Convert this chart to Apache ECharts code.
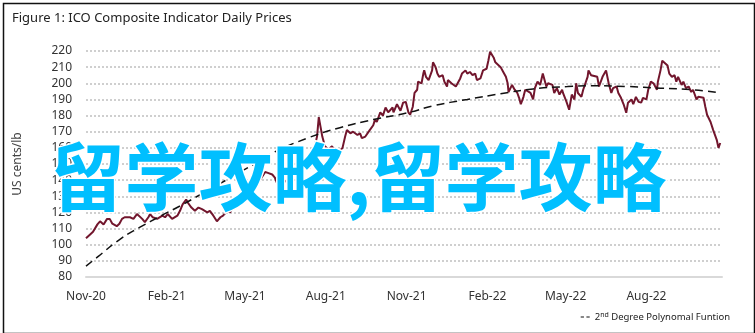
<!DOCTYPE html>
<html>
<head>
<meta charset="utf-8">
<script src="https://cdn.jsdelivr.net/npm/echarts@6/dist/echarts.min.js"></script>
<style>
  html, body { margin: 0; padding: 0; background: #fff; }
  #main { width: 755px; height: 333px; }
</style>
</head>
<body>
<div id="main"></div>
<script>
// days counted from 1 Nov 2020
const days = [0, 5, 8, 13, 16, 18, 20, 24, 27, 30, 31, 35, 38, 41, 44, 50, 54, 58, 60, 64,
  67, 71, 73, 76, 81, 87, 90, 93, 98, 104, 107, 110, 114, 116, 120, 124, 128, 132, 134, 138,
  141, 145, 149, 150, 153, 156, 161, 164, 167, 172, 175, 179, 182, 185, 189, 192, 198, 204, 207, 212,
  215, 219, 223, 229, 232, 238, 246, 251, 255, 257, 263, 265, 267, 269, 272, 276, 280, 284, 287, 292,
  295, 297, 301, 304, 309, 312, 314, 318, 320, 323, 327, 329, 331, 335, 338, 341, 344, 349, 350, 354,
  358, 361, 364, 367, 369, 372, 374, 377, 378, 382, 384, 385, 387, 390, 394, 395, 398, 400, 402, 406,
  408, 411, 412, 416, 418, 421, 424, 426, 428, 432, 434, 437, 440, 443, 445, 449, 452, 456, 458, 460,
  464, 466, 468, 472, 475, 478, 480, 481, 485, 488, 491, 493, 495, 498, 500, 502, 506, 509, 511, 514,
  517, 520, 524, 526, 531, 533, 536, 539, 542, 543, 547, 550, 553, 556, 558, 560, 564, 566, 571, 572,
  575, 577, 582, 584, 588, 590, 592, 595, 598, 600, 604, 606, 609, 612, 615, 617, 621, 623, 626, 629,
  632, 634, 638, 640, 643, 646, 650, 651, 654, 656, 658, 662, 664, 667, 670, 672, 674, 678, 680, 683,
  686, 689, 691, 695, 697, 699, 703, 705, 707, 711, 714, 716, 718, 720, 722];
const prices = [104, 106.5, 108, 112.6, 114.5, 115.6, 112.5, 116, 116, 113, 114, 111.5, 113, 116, 117, 117, 116, 119, 118, 116,
  114, 117, 119, 117, 116, 118, 117, 119, 116, 118, 121, 125, 128, 126, 123, 121, 123, 122, 123, 120,
  121, 118, 114.5, 114, 117, 118, 121, 120, 123, 126, 129, 127, 132, 130, 133, 135.6, 140, 145, 144.5, 143.5,
  141.6, 136, 138, 140, 148, 146, 149.6, 147, 148, 153, 167, 179, 173, 167, 161, 159, 161, 158, 157, 160,
  167, 171, 169, 170, 168, 169, 166, 167, 166, 171, 174, 177.5, 176, 182, 180, 185, 182, 185, 182, 187,
  183, 188, 188.5, 182, 180.5, 185.5, 194, 196, 201, 200, 206, 208, 204, 202, 208, 213, 210, 206, 204, 205,
  201, 198, 202, 200, 201, 198, 201, 203, 206, 208, 206, 207, 205, 206, 202, 203, 208, 209, 214, 219.5,
  216, 213, 214, 210, 207, 204, 200, 194.6, 199, 196, 194, 191, 187, 191.6, 196, 197, 194, 190, 197, 201,
  199, 206, 198, 200, 199, 194, 197, 193, 196, 194, 188.5, 183.6, 193, 190, 200, 194, 191.6, 196, 204, 208,
  205, 206, 204, 198, 204, 205, 208, 200, 194, 197, 198, 194, 191, 187, 181.7, 188, 190, 187, 191.6, 188.5,
  188, 191, 190, 196, 201, 200, 196, 201, 208, 214, 213, 211, 206, 204, 205, 201, 204, 199, 201, 197,
  198, 194.6, 196, 190, 191.6, 191, 191, 185.5, 180.5, 176, 171, 170, 165, 160, 163];

const trendDays = [0, 14, 39, 62, 84, 107, 130, 153, 175, 195, 213, 252, 289, 327, 366, 395, 434, 472, 509, 548, 577, 616, 654, 691, 722];
const trendValues = [86.7, 92.8, 103.5, 111, 117.5, 124, 131, 138, 145, 151, 157, 166, 172.5, 177.5, 181.7, 186, 190, 193.5, 196.5, 198, 198.5, 198, 197, 196, 194];

const tickDays = [0, 92, 181, 273, 365, 457, 546, 638];
const tickLabels = ["Nov-20", "Feb-21", "May-21", "Aug-21", "Nov-21", "Feb-22", "May-22", "Aug-22"];

let mycharts = echarts.init(document.getElementById("main"));

let option = {
  animation: false,
  textStyle: { fontFamily: "Noto Sans" },
  title: {
    text: "Figure 1: ICO Composite Indicator Daily Prices",
    left: 7,
    top: 7,
    textStyle: { color: "#222", fontWeight: "normal", fontSize: 13, fontFamily: "Noto Sans" }
  },
  grid: { left: 86, right: 33, top: 51, bottom: 56 },
  legend: {
    right: 20,
    bottom: 6,
    data: ["trend"],
    icon: "path://M0,0h4v1h-4z M7,0h4v1h-4z",
    itemWidth: 9,
    itemHeight: 2,
    itemGap: 4,
    formatter: function() {
      return "{t|2}{s|nd}{t| Degree Polynomal Funtion}";
    },
    textStyle: {
      rich: {
        t: { fontSize: 9.5, color: "#222", fontFamily: "Noto Sans" },
        s: { fontSize: 7, color: "#222", verticalAlign: "top", padding: [0, 0, 4, 0] }
      }
    }
  },
  xAxis: {
    type: "value",
    min: 0,
    max: 724,
    splitLine: { show: false },
    axisTick: { show: false },
    axisLine: { show: true, lineStyle: { color: "#d9d9d9", width: 2 } },
    axisLabel: {
      customValues: tickDays,
      margin: 14,
      fontSize: 12,
      color: "#333",
      formatter: function(v) {
        let i = tickDays.indexOf(v);
        return i >= 0 ? tickLabels[i] : "";
      }
    }
  },
  yAxis: {
    type: "value",
    min: 80,
    max: 220,
    interval: 10,
    name: "US cents/lb",
    nameLocation: "middle",
    nameGap: 62,
    nameRotate: 90,
    nameTextStyle: { color: "#444", fontSize: 12 },
    axisLine: { show: false },
    axisTick: { show: false },
    axisLabel: { margin: 14, fontSize: 12, color: "#333" },
    splitLine: {
      show: true,
      lineStyle: { color: "#cfcfcf", width: 2, type: [2, 2] }
    }
  },
  series: [
    {
      name: "price",
      type: "line",
      showSymbol: false,
      data: days.map(function(d, i) { return [d, prices[i]]; }),
      lineStyle: { color: "#72162d", width: 2 },
      itemStyle: { color: "#72162d" },
      z: 3
    },
    {
      name: "trend",
      type: "line",
      showSymbol: false,
      smooth: true,
      data: trendDays.map(function(d, i) { return [d, trendValues[i]]; }),
      lineStyle: { color: "#111", width: 1.5, type: [8, 5] },
      itemStyle: { color: "#111" },
      z: 4
    }
  ],
  graphic: [
    {
      type: "rect",
      left: 1,
      top: 1,
      shape: { width: 751, height: 330 },
      style: { fill: "none", stroke: "#111", lineWidth: 1.5 },
      z: 50
    },
    {
      type: "text",
      left: 49,
      top: 138,
      style: {
        text: "留学攻略,留学攻略",
        font: "bold 74px 'Noto Sans CJK SC'",
        fill: "#00bfff",
        stroke: "#ffffff",
        lineWidth: 3
      },
      z: 100
    }
  ]
};
mycharts.setOption(option);
</script>
</body>
</html>
